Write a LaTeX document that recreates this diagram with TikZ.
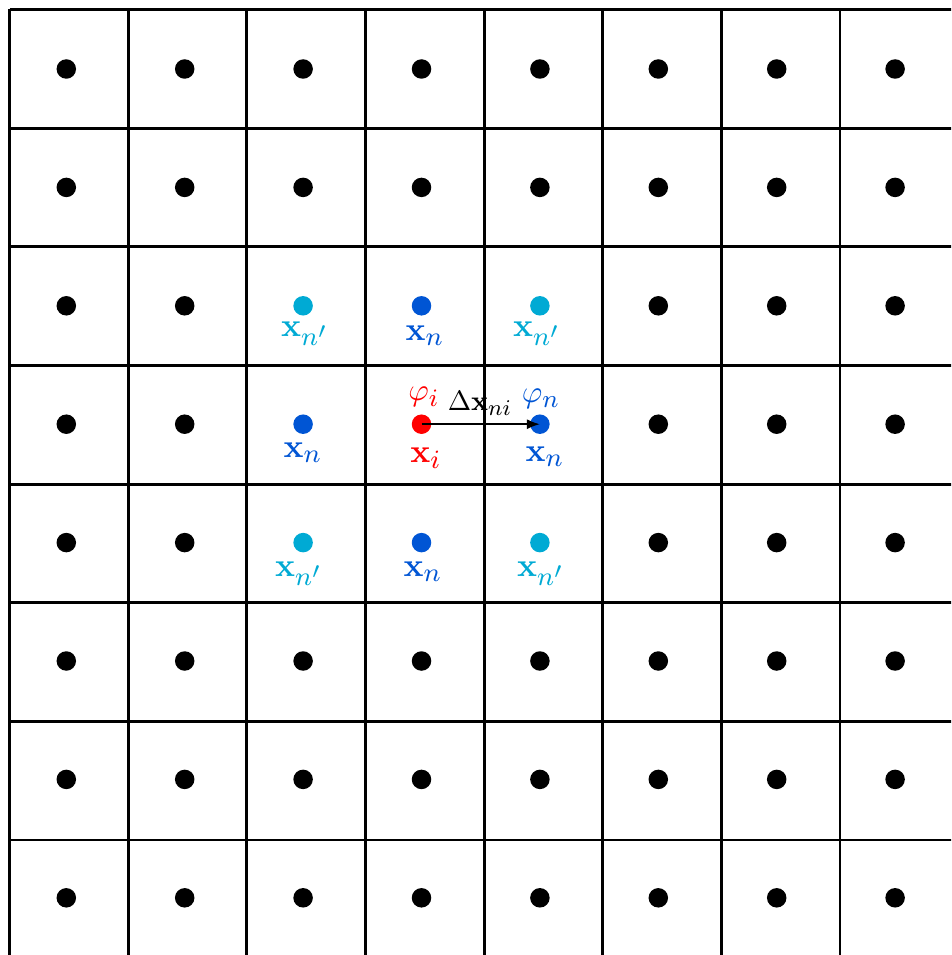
\documentclass[tikz,border=0pt]{standalone}
\usepackage{amsmath}
\usepackage{graphicx}
\usetikzlibrary{arrows.meta}
\DeclareMathSizes{10}{10}{8.5}{7}
\definecolor{ptred}{HTML}{FF0000}
\definecolor{ptblue}{HTML}{0055D4}
\definecolor{ptcyan}{HTML}{00AAD4}
\newcommand\mylab[1]{\scalebox{3.3}{\fontsize{10}{12}\selectfont$#1$}}
\begin{document}
\begin{tikzpicture}[x=1pt,y=-1pt,
  gridline/.style={line width=2.8pt,black},
  dot/.style={circle,fill=black,inner sep=0pt,minimum size=19.5pt},
  lbl/.style={inner sep=0pt,anchor=center}]
\useasboundingbox (0,0) rectangle (951,955);
\begin{scope}
\clip (0,0) rectangle (951,955);
\foreach \i in {0,...,8}{
  \draw[gridline] (9.5+\i*118.65,9.5) -- (9.5+\i*118.65,970);
  \draw[gridline] (9.5,9.5+\i*118.65) -- (970,9.5+\i*118.65);
}
\end{scope}
\foreach \i in {0,...,7}{\foreach \j in {0,...,7}{
  \pgfmathtruncatemacro\inblk{(\i>1)&&(\i<5)&&(\j>1)&&(\j<5)}
  \ifnum\inblk=0 \node[dot] (d\i\j) at (66.3+\i*118.4,69+\j*118.4) {};\fi
}}
% coloured block
\node[dot,fill=ptcyan] (c22) at (303.1,305.8) {};
\node[dot,fill=ptblue] (c32) at (421.5,305.8) {};
\node[dot,fill=ptcyan] (c42) at (539.9,305.8) {};
\node[dot,fill=ptblue] (c23) at (303.1,424.2) {};
\node[dot,fill=ptred]  (xi)  at (421.5,424.2) {};
\node[dot,fill=ptblue] (xn)  at (539.9,424.2) {};
\node[dot,fill=ptcyan] (c24) at (303.1,542.6) {};
\node[dot,fill=ptblue] (c34) at (421.5,542.6) {};
\node[dot,fill=ptcyan] (c44) at (539.9,542.6) {};
% labels
\node[lbl,text=ptcyan] (l22) at (305,334) {\mylab{\mathbf{x}_{n'}}};
\node[lbl,text=ptblue] (l32) at (425,336) {\mylab{\mathbf{x}_{n}}};
\node[lbl,text=ptcyan] (l42) at (537,334) {\mylab{\mathbf{x}_{n'}}};
\node[lbl,text=ptblue] (l23) at (303,453) {\mylab{\mathbf{x}_{n}}};
\node[lbl,text=ptred]  (lxi) at (426,458) {\mylab{\mathbf{x}_{i}}};
\node[lbl,text=ptblue] (lxn) at (545,457) {\mylab{\mathbf{x}_{n}}};
\node[lbl,text=ptcyan] (l24) at (299,574) {\mylab{\mathbf{x}_{n'}}};
\node[lbl,text=ptblue] (l34) at (423,572) {\mylab{\mathbf{x}_{n}}};
\node[lbl,text=ptcyan] (l44) at (541,574) {\mylab{\mathbf{x}_{n'}}};
\node[lbl,text=ptred]  (phii) at (424,397) {\scalebox{0.95}{\mylab{\varphi_i}}};
\node[lbl,text=ptblue] (phin) at (541,399) {\scalebox{0.95}{\mylab{\varphi_n}}};
\node[lbl,text=black]  (dx)   at (480,403) {\scalebox{0.85}{\mylab{\Delta\mathbf{x}_{ni}}}};
\draw[line width=1.7pt,-{Latex[length=13pt,width=10pt]}] (xi.center) -- (xn.center);
\end{tikzpicture}
\end{document}
